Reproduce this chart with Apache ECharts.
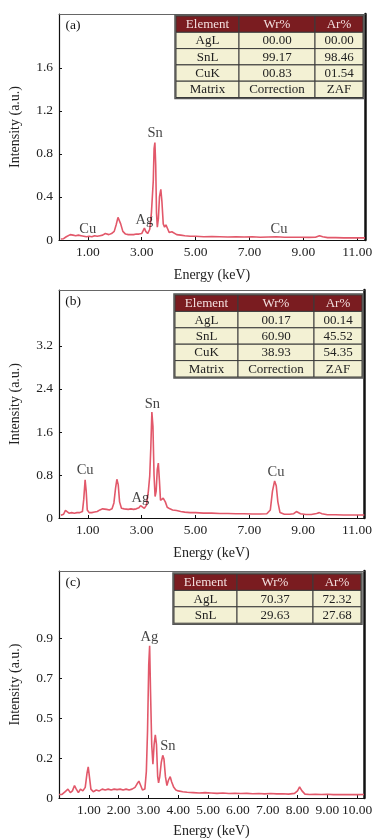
<!DOCTYPE html>
<html><head><meta charset="utf-8">
<script src="https://cdn.jsdelivr.net/npm/echarts@6/dist/echarts.min.js"></script>
<style>html,body{margin:0;padding:0;background:#fff}#c{width:392px;height:840px}</style>
</head><body><div id="c"></div>
<script>
// ---------- data ----------
const energyA = [0.0,0.1,0.2,0.27,0.35,0.45,0.55,0.65,0.75,0.85,0.95,1.05,1.15,1.25,1.35,1.45,1.55,1.65,1.71,1.78,1.88,1.98,2.05,2.12,2.16,2.22,2.3,2.4,2.5,2.6,2.7,2.8,2.9,3.0,3.06,3.1,3.15,3.22,3.3,3.36,3.40,3.43,3.46,3.49,3.52,3.55,3.58,3.62,3.66,3.71,3.75,3.8,3.85,3.9,3.93,3.97,4.02,4.07,4.12,4.18,4.3,4.45,4.6,4.8,5.0,5.3,5.6,5.9,6.2,6.5,6.8,7.1,7.4,7.7,8.0,8.3,8.6,8.9,9.2,9.45,9.6,9.72,9.9,10.2,10.5,10.8,11.1,11.29];
const intensityA = [0.01,0.012,0.03,0.045,0.05,0.045,0.04,0.045,0.04,0.035,0.03,0.035,0.03,0.04,0.035,0.04,0.045,0.06,0.077,0.05,0.06,0.08,0.14,0.21,0.22,0.15,0.08,0.055,0.05,0.05,0.05,0.055,0.055,0.06,0.09,0.11,0.08,0.06,0.1,0.25,0.42,0.55,0.85,0.905,0.70,0.25,0.12,0.2,0.40,0.47,0.36,0.15,0.12,0.14,0.146,0.10,0.07,0.06,0.077,0.06,0.05,0.045,0.04,0.035,0.035,0.03,0.032,0.03,0.028,0.03,0.028,0.03,0.026,0.028,0.03,0.026,0.025,0.025,0.024,0.025,0.04,0.03,0.022,0.022,0.02,0.02,0.02,0.02];

const energyB = [0.0,0.1,0.17,0.22,0.3,0.4,0.5,0.6,0.7,0.8,0.85,0.9,0.94,0.98,1.05,1.15,1.25,1.35,1.45,1.55,1.62,1.7,1.8,1.9,1.97,2.03,2.08,2.13,2.18,2.25,2.35,2.5,2.6,2.7,2.8,2.9,2.96,3.02,3.1,3.18,3.25,3.30,3.34,3.38,3.42,3.46,3.50,3.54,3.58,3.62,3.66,3.70,3.75,3.80,3.84,3.88,3.95,4.05,4.15,4.3,4.45,4.6,4.8,5.0,5.3,5.6,5.9,6.2,6.5,6.8,7.1,7.4,7.65,7.78,7.86,7.94,8.0,8.06,8.14,8.3,8.5,8.65,8.75,8.81,8.9,9.1,9.3,9.5,9.6,9.7,9.9,10.2,10.5,10.8,11.1,11.27];
const intensityB = [0.05,0.07,0.14,0.12,0.09,0.1,0.09,0.1,0.1,0.12,0.35,0.71,0.5,0.15,0.1,0.1,0.11,0.12,0.15,0.17,0.19,0.16,0.15,0.17,0.28,0.55,0.72,0.62,0.3,0.18,0.17,0.16,0.17,0.16,0.17,0.19,0.23,0.2,0.18,0.24,0.5,0.78,1.3,1.97,1.7,0.8,0.4,0.5,0.9,1.02,0.7,0.33,0.3,0.37,0.39,0.3,0.2,0.17,0.15,0.14,0.12,0.11,0.1,0.1,0.09,0.09,0.085,0.085,0.08,0.08,0.075,0.075,0.08,0.15,0.5,0.69,0.6,0.3,0.1,0.07,0.07,0.08,0.12,0.14,0.08,0.065,0.065,0.085,0.1,0.08,0.06,0.06,0.055,0.055,0.055,0.055];

const energyC = [0.0,0.1,0.2,0.3,0.38,0.45,0.52,0.58,0.65,0.72,0.8,0.88,0.94,0.98,1.02,1.07,1.15,1.25,1.35,1.45,1.55,1.65,1.75,1.85,1.95,2.05,2.15,2.25,2.35,2.45,2.55,2.62,2.68,2.74,2.8,2.88,2.93,2.97,3.01,3.04,3.07,3.11,3.15,3.19,3.23,3.27,3.31,3.34,3.38,3.43,3.48,3.52,3.57,3.62,3.67,3.73,3.78,3.85,3.92,4.0,4.15,4.3,4.5,4.7,4.9,5.1,5.3,5.5,5.7,5.9,6.1,6.3,6.5,6.7,6.9,7.1,7.3,7.5,7.7,7.9,8.0,8.07,8.15,8.25,8.4,8.6,8.8,9.0,9.2,9.4,9.6,9.8,10.0,10.23];
const intensityC = [0.02,0.02,0.035,0.05,0.03,0.04,0.07,0.05,0.03,0.05,0.04,0.06,0.14,0.175,0.12,0.05,0.035,0.045,0.04,0.05,0.045,0.05,0.045,0.05,0.047,0.05,0.045,0.05,0.045,0.05,0.06,0.08,0.095,0.07,0.045,0.05,0.15,0.38,0.75,0.857,0.6,0.3,0.19,0.3,0.356,0.3,0.12,0.085,0.12,0.2,0.24,0.22,0.12,0.07,0.1,0.12,0.09,0.06,0.045,0.04,0.035,0.032,0.03,0.028,0.03,0.028,0.026,0.028,0.025,0.027,0.025,0.026,0.024,0.025,0.023,0.025,0.023,0.024,0.022,0.026,0.04,0.062,0.04,0.022,0.02,0.021,0.02,0.021,0.019,0.02,0.019,0.02,0.019,0.02];

// peak annotations [energy, intensity, text]
const peaksA = [[1.0,0.10,'Cu'],[3.1,0.18,'Ag'],[3.5,0.995,'Sn'],[8.1,0.10,'Cu']];
const peaksB = [[0.9,0.89,'Cu'],[2.95,0.36,'Ag'],[3.4,2.12,'Sn'],[7.99,0.845,'Cu']];
const peaksC = [[3.03,0.905,'Ag'],[3.65,0.294,'Sn']];

// tick labels
const xTicksAB = [1,3,5,7,9,11];
const xTicksC = [1,2,3,4,5,6,7,8,9,10];
const yTicksA = [0,0.4,0.8,1.2,1.6];
const yTicksB = [0,0.8,1.6,2.4,3.2];
const yTicksC = [0,0.225,0.45,0.675,0.9];

// tables
const tableHeader = ['Element','Wr%','Ar%'];
const tableElemA = ['AgL','SnL','CuK','Matrix'];
const tableWrA = ['00.00','99.17','00.83','Correction'];
const tableArA = ['00.00','98.46','01.54','ZAF'];
const tableElemB = ['AgL','SnL','CuK','Matrix'];
const tableWrB = ['00.17','60.90','38.93','Correction'];
const tableArB = ['00.14','45.52','54.35','ZAF'];
const tableElemC = ['AgL','SnL'];
const tableWrC = ['70.37','29.63'];
const tableArC = ['72.32','27.68'];

const panelLetters = ['(a)','(b)','(c)'];

// ---------- layout / style ----------
const FONT = "'Liberation Serif','Times New Roman',serif";
const LINE = '#e2586a';
const grids = [
  {left:56, top:14, width:309, height:226},
  {left:56, top:290, width:308, height:228},
  {left:56, top:571, width:308, height:227}
];
const xRanges = [[-0.07,11.29],[-0.07,11.26],[0,10.23]];
const yMax = [2.10, 4.24, 1.278];
const yInt = [0.4, 0.8, 0.225];
const xTickSets = [xTicksAB, xTicksAB, xTicksC];
const yTickSets = [yTicksA, yTicksB, yTicksC];
const spectra = [[energyA,intensityA],[energyB,intensityB],[energyC,intensityC]];
const peaks = [peaksA, peaksB, peaksC];

const xAxis = [], yAxis = [], series = [];
for (let i=0;i<3;i++){
  xAxis.push({
    type:'value', gridIndex:i, min:xRanges[i][0], max:xRanges[i][1],
    name:'Energy (keV)', nameLocation:'middle', nameGap: i===2?26:28,
    nameTextStyle:{fontFamily:FONT, fontSize:14, color:'#222'},
    axisLine:{onZero:false, lineStyle:{color:'#111', width:1.2}},
    axisTick:{inside:true, length:3, customValues:xTickSets[i], lineStyle:{color:'#111'}},
    axisLabel:{customValues:xTickSets[i], formatter:v=>v.toFixed(2), fontFamily:FONT, fontSize:13.5, color:'#222', margin:5},
    splitLine:{show:false}
  });
  xAxis.push({
    type:'value', gridIndex:i, position:'top', min:xRanges[i][0], max:xRanges[i][1],
    axisLine:{onZero:false, lineStyle:{color:'#666', width:1}},
    axisTick:{show:false}, axisLabel:{show:false}, splitLine:{show:false}
  });
  yAxis.push({
    type:'value', gridIndex:i, min:0, max:yMax[i], interval:yInt[i],
    name:'Intensity (a.u.)', nameLocation:'middle', nameGap:37,
    nameTextStyle:{fontFamily:FONT, fontSize:14, color:'#222'},
    axisLine:{show:true, onZero:false, lineStyle:{color:'#111', width:1.2}},
    axisTick:{inside:true, length:3, customValues:yTickSets[i], lineStyle:{color:'#111'}},
    axisLabel:{customValues:yTickSets[i], formatter:v=> v===0?'0':v.toFixed(1), fontFamily:FONT, fontSize:13.5, color:'#222', margin:6},
    splitLine:{show:false}
  });
  yAxis.push({
    type:'value', gridIndex:i, position:'right', min:0, max:yMax[i],
    axisLine:{show:true, onZero:false, lineStyle:{color:'#111', width:2.5}},
    axisTick:{show:false}, axisLabel:{show:false}, splitLine:{show:false}
  });
  const [ex, iy] = spectra[i];
  series.push({
    type:'line', xAxisIndex:2*i, yAxisIndex:2*i, showSymbol:false, symbol:'none',
    data: ex.map((e,k)=>[e, iy[k]]),
    lineStyle:{color:LINE, width:1.6}, z:3
  });
  series.push({
    type:'scatter', xAxisIndex:2*i, yAxisIndex:2*i, symbolSize:0,
    data: peaks[i].map(p=>({value:[p[0],p[1]], name:p[2]})),
    label:{show:true, position:'inside', formatter:p=>p.name, fontFamily:FONT, fontSize:14.5, color:'#111'},
    z:4, silent:true
  });
}

// tables via graphic
const tablePos = [
  {left:176, top:16, rowH:16.3},
  {left:175, top:295, rowH:16.4},
  {left:174, top:574, rowH:16.4}
];
const colW = [63, 76, 48];
const tables = [[tableElemA,tableWrA,tableArA],[tableElemB,tableWrB,tableArB],[tableElemC,tableWrC,tableArC]];
const graphic = [];
for (let t=0;t<3;t++){
  const {left, top, rowH} = tablePos[t];
  const cols = tables[t];
  const nRows = cols[0].length + 1;
  const totalW = colW.reduce((a,b)=>a+b,0);
  graphic.push({type:'rect', shape:{x:left-1, y:top-1, width:totalW+2, height:nRows*rowH+2},
    style:{fill:'#f3f1d4', stroke:'#555', lineWidth:1.5}, z:10});
  let x = left;
  for (let c=0;c<3;c++){
    for (let r=0;r<nRows;r++){
      const y = top + r*rowH;
      const txt = r===0 ? tableHeader[c] : cols[c][r-1];
      graphic.push({type:'rect', shape:{x:x, y:y, width:colW[c], height:rowH},
        style:{fill: r===0 ? '#7a1c20' : '#f3f1d4', stroke:'#3a3a3a', lineWidth:1}, z:11});
      graphic.push({type:'text', x:x+colW[c]/2, y:y+rowH/2+0.5,
        style:{text:txt, fill: r===0 ? '#f2dede' : '#222', font:'13px '+FONT, align:'center', verticalAlign:'middle'}, z:12});
    }
    x += colW[c];
  }
  graphic.push({type:'text', x:73, y:grids[t].top+11,
    style:{text:panelLetters[t], fill:'#111', font:'13.5px '+FONT, align:'center', verticalAlign:'middle'}, z:12});
}

const chart = echarts.init(document.getElementById('c'), null, {renderer:'canvas', width:392, height:840});
chart.setOption({
  animation:false,
  backgroundColor:'#fff',
  grid: grids.map(g=>Object.assign({containLabel:false}, g)),
  xAxis, yAxis, series, graphic
});
</script></body></html>
